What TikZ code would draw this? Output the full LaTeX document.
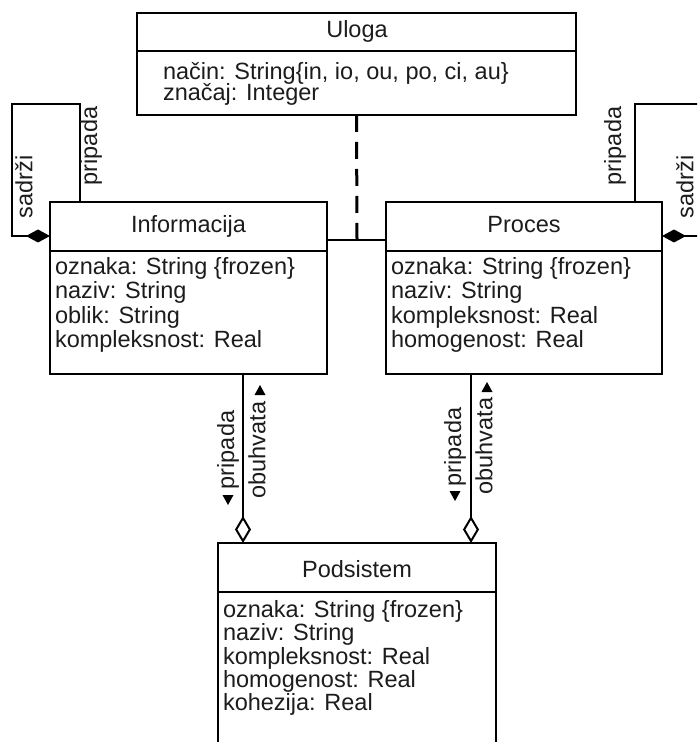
\documentclass[tikz,border=0pt]{standalone}
\usepackage{fontspec}
\setmainfont{Liberation Sans}
\usetikzlibrary{arrows.meta}
\definecolor{ink}{RGB}{28,28,28}
\begin{document}
\begin{tikzpicture}[x=0.5pt,y=-0.5pt,
  classbox/.style={draw=black, line width=1.4pt, rectangle, inner sep=0pt, outer sep=0pt, anchor=north west},
  divider/.style={line width=1.4pt},
  txt/.style={font=\fontsize{11.75pt}{14pt}\selectfont, text=ink, inner sep=0pt, outer sep=0pt},
  title/.style={txt, anchor=base},
  attr/.style={txt, anchor=base west},
  vlabel/.style={txt, rotate=90, anchor=center},
  link/.style={line width=1pt, draw=black},
  owned/.style={link, -{Diamond[length=12pt,width=6.5pt]}},
  shared/.style={link, -{Diamond[open,fill=white,length=13.5pt,width=8pt]}},
  realizes/.style={line width=1.5pt, draw=black, dash pattern=on 8.5pt off 5pt}]

\useasboundingbox (0,0) rectangle (697,742);
\clip (0,0) rectangle (697,742);

% class boxes
\node[classbox, minimum width=219.5pt, minimum height=51pt] (uloga) at (137,13) {};
\node[classbox, minimum width=138.5pt, minimum height=86pt] (info) at (50,202) {};
\node[classbox, minimum width=138pt, minimum height=86pt] (proces) at (386,202) {};
\node[classbox, minimum width=139pt, minimum height=128.5pt] (pod) at (218,543) {};

% compartment dividers
\draw[divider] ([yshift=-19pt]uloga.north west) -- ([yshift=-19pt]uloga.north east);
\draw[divider] ([yshift=-24.5pt]info.north west) -- ([yshift=-24.5pt]info.north east);
\draw[divider] ([yshift=-24.5pt]proces.north west) -- ([yshift=-24.5pt]proces.north east);
\draw[divider] ([yshift=-24.5pt]pod.north west) -- ([yshift=-24.5pt]pod.north east);

% class names
\node[title] (uloga-name) at (357,38) {Uloga};
\node[title] (info-name) at (188.5,233) {Informacija};
\node[title] (proces-name) at (524,233) {Proces};
\node[title] (pod-name) at (357,577) {Podsistem};

% attributes
\node[attr] (uloga-a1) at (163,80) {način: String\{in, io, ou, po, ci, au\}};
\node[attr] (uloga-a2) at (163,101) {značaj: Integer};

\node[attr] (info-a1) at (55,275) {oznaka: String \{frozen\}};
\node[attr] (info-a2) at (55,299) {naziv: String};
\node[attr] (info-a3) at (55,323) {oblik: String};
\node[attr] (info-a4) at (55,347) {kompleksnost: Real};

\node[attr] (proces-a1) at (391,275) {oznaka: String \{frozen\}};
\node[attr] (proces-a2) at (391,299) {naziv: String};
\node[attr] (proces-a3) at (391,323) {kompleksnost: Real};
\node[attr] (proces-a4) at (391,347) {homogenost: Real};

\node[attr] (pod-a1) at (223,617) {oznaka: String \{frozen\}};
\node[attr] (pod-a2) at (223,640) {naziv: String};
\node[attr] (pod-a3) at (223,664) {kompleksnost: Real};
\node[attr] (pod-a4) at (223,687) {homogenost: Real};
\node[attr] (pod-a5) at (223,710) {kohezija: Real};

% association between Informacija and Proces, with its association class
\coordinate (assoc) at (357,240);
\draw[link] ([yshift=-19pt]info.north east) -- ([yshift=-19pt]proces.north west);
\draw[realizes] (uloga.south) -- (assoc);

% recursive compositions
\coordinate (lloop-top) at (12,104);
\coordinate (rloop-top) at (705,104);
\draw[owned] ([xshift=15pt]info.north west) |- (lloop-top) |- ([yshift=-17pt]info.north west);
\draw[owned] ([xshift=-13.5pt]proces.north east) |- (rloop-top) |- ([yshift=-17pt]proces.north east);
\node[vlabel] (lloop-own) at (24,187) {sadrži};
\node[vlabel] (lloop-part) at (91,146) {pripada};
\node[vlabel] (rloop-part) at (615,146) {pripada};
\node[vlabel] (rloop-own) at (685,187) {sadrži};

% aggregations into Podsistem
\draw[shared] ([xshift=96.5pt]info.south west) -- ([xshift=12.5pt]pod.north west);
\draw[shared] ([xshift=42.5pt]proces.south west) -- ([xshift=126.5pt]pod.north west);

\node[vlabel] (il-part) at (228,450) {pripada};
\node[vlabel] (il-whole) at (257,450) {obuhvata};
\node[vlabel] (pl-part) at (455,447) {pripada};
\node[vlabel] (pl-whole) at (484,446) {obuhvata};

% reading-direction triangles
\coordinate (il-down) at (228,500);
\coordinate (il-up) at (260,390);
\coordinate (pl-down) at (455,496);
\coordinate (pl-up) at (487,387);
\foreach \c in {il-down,pl-down}
  \fill[black] (\c) ++(-5.5,-5) -- ++(11,0) -- ++(-5.5,10) -- cycle;
\foreach \c in {il-up,pl-up}
  \fill[black] (\c) ++(-5.5,5) -- ++(11,0) -- ++(-5.5,-10) -- cycle;
\end{tikzpicture}
\end{document}
